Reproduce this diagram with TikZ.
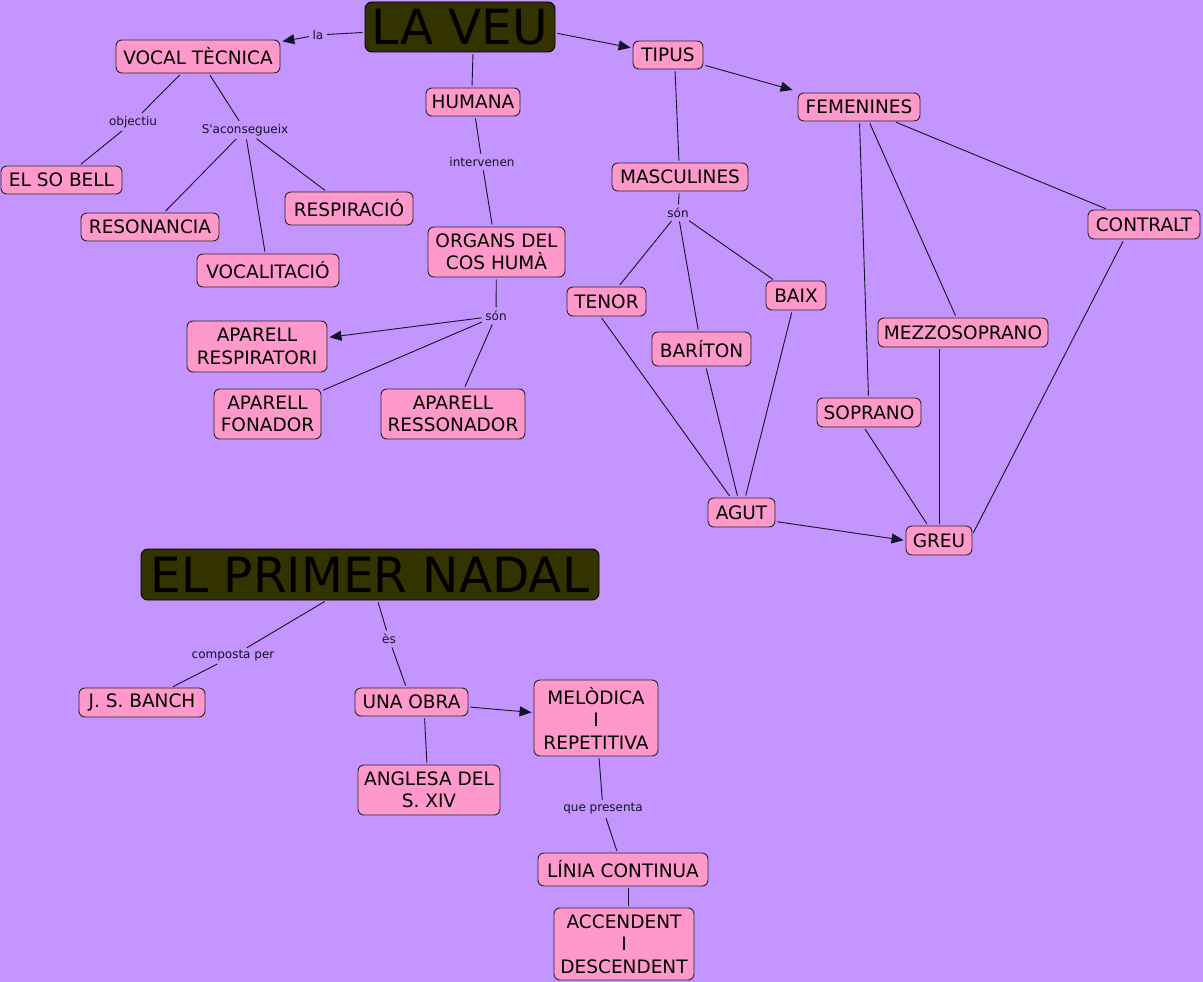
\documentclass[tikz,border=0pt]{standalone}
\usepackage{fontspec}
\setmainfont{DejaVu Sans}
\newfontfamily\lblfont{DejaVu Sans}
\usetikzlibrary{arrows.meta}
\definecolor{bgc}{RGB}{196,148,255}
\definecolor{pk}{RGB}{255,153,204}
\definecolor{olv}{RGB}{51,51,0}
\definecolor{lnc}{RGB}{20,20,40}
\begin{document}
\begin{tikzpicture}[x=1pt,y=-1pt,
 cbox/.style={draw=black!85, line width=0.9pt, fill=pk, rounded corners=6pt, align=center, inner sep=0pt, font=\fontsize{18.5}{22.5}\selectfont},
 tbox/.style={draw=black, line width=0.9pt, fill=olv, rounded corners=7pt, inner sep=0pt, font=\fontsize{48.5}{56}\selectfont},
 lbl/.style={font=\lblfont\fontsize{12}{14}\selectfont, inner sep=1.5pt, text=lnc},
 ln/.style={draw=lnc, line width=0.9pt, shorten <=2pt, shorten >=2pt},
 ar/.style={ln, -{Triangle[length=12pt,width=10pt]}}]
\fill[bgc] (0,0) rectangle (1203,982);
\useasboundingbox (0,0) rectangle (1203,982);
% nodes
\node[tbox, minimum width=190, minimum height=50] (laveu) at (460,27) {LA VEU};
\node[cbox, minimum width=164, minimum height=33] (vocal) at (198,56.5) {VOCAL TÈCNICA};
\node[cbox, minimum width=94, minimum height=28] (humana) at (473,102) {HUMANA};
\node[cbox, minimum width=70, minimum height=28] (tipus) at (668,55) {TIPUS};
\node[cbox, minimum width=122, minimum height=28] (femen) at (859,107) {FEMENINES};
\node[cbox, minimum width=136, minimum height=28] (mascul) at (680,177) {MASCULINES};
\node[cbox, minimum width=121, minimum height=28] (sobell) at (61.5,180) {EL SO BELL};
\node[cbox, minimum width=138, minimum height=28] (resonancia) at (150,227) {RESONANCIA};
\node[cbox, minimum width=128, minimum height=33] (respiracio) at (349,208.5) {RESPIRACIÓ};
\node[cbox, minimum width=142, minimum height=33] (vocalitacio) at (268,270.5) {VOCALITACIÓ};
\node[cbox, minimum width=137, minimum height=50] (organs) at (496.5,252) {ORGANS DEL\\COS HUMÀ};
\node[cbox, minimum width=140, minimum height=51] (apresp) at (257,346.5) {APARELL\\RESPIRATORI};
\node[cbox, minimum width=107, minimum height=50] (apfon) at (267.5,414) {APARELL\\FONADOR};
\node[cbox, minimum width=144, minimum height=50] (apres) at (453,414) {APARELL\\RESSONADOR};
\node[cbox, minimum width=79, minimum height=29] (tenor) at (606.5,301.5) {TENOR};
\node[cbox, minimum width=60, minimum height=29] (baix) at (796,295.5) {BAIX};
\node[cbox, minimum width=99, minimum height=34] (bariton) at (701.5,349) {BARÍTON};
\node[cbox, minimum width=112, minimum height=29] (contralt) at (1144,224.5) {CONTRALT};
\node[cbox, minimum width=170, minimum height=29] (mezzo) at (963,332.5) {MEZZOSOPRANO};
\node[cbox, minimum width=104, minimum height=29] (soprano) at (869,412.5) {SOPRANO};
\node[cbox, minimum width=67, minimum height=29] (agut) at (741.5,512.5) {AGUT};
\node[cbox, minimum width=66, minimum height=29] (greu) at (939,540.5) {GREU};
\node[tbox, minimum width=458, minimum height=51] (nadal) at (370,574.5) {EL PRIMER NADAL};
\node[cbox, minimum width=126, minimum height=29] (banch) at (142,702.5) {J. S. BANCH};
\node[cbox, minimum width=113, minimum height=28] (unaobra) at (411.5,702) {UNA OBRA};
\node[cbox, minimum width=124, minimum height=76] (melodica) at (596,718) {MELÒDICA\\I\\REPETITIVA};
\node[cbox, minimum width=142, minimum height=50] (anglesa) at (429,790) {ANGLESA DEL\\S. XIV};
\node[cbox, minimum width=170, minimum height=33] (linia) at (623,869.5) {LÍNIA CONTINUA};
\node[cbox, minimum width=140, minimum height=72] (accendent) at (624,944) {ACCENDENT\\I\\DESCENDENT};
% link labels
\node[lbl] (la) at (318,35) {la};
\node[lbl] (objectiu) at (133,122) {objectiu};
\node[lbl] (sacons) at (245,130) {S'aconsegueix};
\node[lbl] (interv) at (482,162) {intervenen};
\node[lbl] (sonA) at (496,316) {són};
\node[lbl] (sonB) at (678,213) {són};
\node[lbl] (composta) at (233,656) {composta per};
\node[lbl] (es) at (389,639) {ès};
\node[lbl] (quepres) at (603,809) {que presenta};
% connectors
\draw[ln] (laveu) -- (la);
\draw[ar] (la) -- (vocal);
\draw[ln] (laveu.south -| humana.north) -- ([xshift=-1pt]humana.north);
\draw[ar] ([yshift=-6pt]laveu.east) -- (tipus);
\draw[ar] (tipus) -- ([xshift=-3pt,yshift=2pt]femen.north west);
\draw[ln] ([xshift=7pt]tipus.south) -- ([xshift=-1pt]mascul.north);
\draw[ln] (vocal) -- (objectiu);
\draw[ln] (objectiu) -- (sobell);
\draw[ln] (vocal) -- (sacons);
\draw[ln] (sacons) -- (resonancia);
\draw[ln] (sacons) -- (vocalitacio);
\draw[ln] (sacons) -- (respiracio);
\draw[ln] (humana) -- (interv);
\draw[ln] (interv) -- (organs);
\draw[ln] (organs) -- (sonA);
\draw[ar] (sonA) -- (apresp);
\draw[ln] (sonA) -- (apfon);
\draw[ln] (sonA) -- (apres);
\draw[ln] (mascul) -- (sonB);
\draw[ln] (sonB) -- (tenor);
\draw[ln] (sonB) -- (bariton);
\draw[ln] (sonB) -- (baix);
\draw[ln] (femen) -- (contralt);
\draw[ln] ([xshift=10pt]femen.south) -- (mezzo);
\draw[ln] (femen) -- (soprano);
\draw[ln] ([xshift=-6pt]tenor.south) -- (agut);
\draw[ln] (bariton) -- (agut);
\draw[ln] (baix) -- (agut);
\draw[ln] ([xshift=-5pt]soprano.south) -- ([xshift=-11pt]greu.north);
\draw[ln] (greu.north |- mezzo.south) -- (greu.north);
\draw[ln] ([xshift=-20pt]contralt.south) -- ([yshift=6pt]greu.east);
\draw[ar] ([yshift=-9pt]agut.east) -- (greu.west);
\draw[ln] (nadal) -- (composta);
\draw[ln] (composta) -- (banch);
\draw[ln] (nadal) -- (es);
\draw[ln] (es) -- (unaobra);
\draw[ar] (unaobra) -- (melodica);
\draw[ln] ([xshift=13pt]unaobra.south) -- ([xshift=-2pt]anglesa.north);
\draw[ln] (melodica) -- (quepres);
\draw[ln] (quepres) -- (linia);
\draw[ln] ([xshift=5pt]linia.south) -- ([xshift=4pt]accendent.north);
\end{tikzpicture}
\end{document}
